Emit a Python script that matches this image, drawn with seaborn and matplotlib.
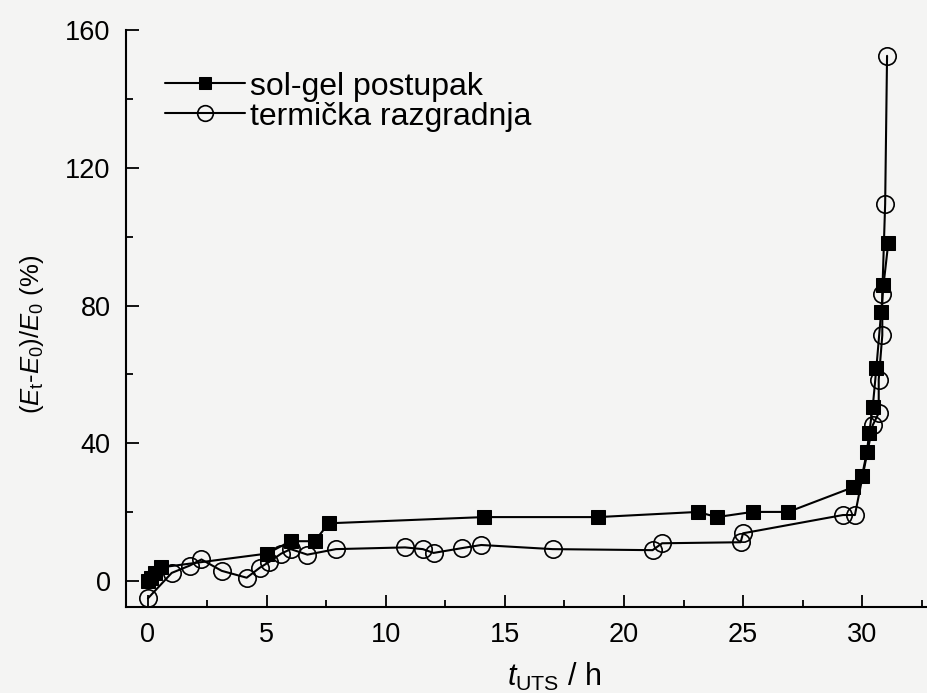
import matplotlib
matplotlib.use("Agg")
import matplotlib.pyplot as plt
from matplotlib.ticker import MultipleLocator
import numpy as np
import pandas as pd
import seaborn as sns

# Anode stability: relative change of cell potential vs. accelerated test time
solgel_t = [0.0, 0.15, 0.3, 0.55, 5.0, 6.0, 7.0, 7.6, 14.1, 18.9, 23.1, 23.9,
            25.4, 26.9, 29.6, 30.0, 30.2, 30.3, 30.45, 30.6, 30.8, 30.9, 31.1]
solgel_e = [0.0, 1.0, 2.5, 4.0, 8.0, 11.6, 11.6, 16.8, 18.6, 18.6, 20.1, 18.6,
            20.1, 20.1, 27.2, 30.6, 37.4, 43.0, 50.7, 61.8, 78.0, 85.9, 98.1]

termal_t = [0.0, 1.0, 1.75, 2.25, 3.1, 4.15, 4.7, 5.1, 5.6, 6.0, 6.7, 7.9,
            10.8, 11.55, 12.0, 13.2, 14.0, 17.0, 21.2, 21.6, 24.9, 25.0,
            29.2, 29.7, 30.45, 30.7, 30.7, 30.85, 30.85, 30.97, 31.05]
termal_e = [-5.0, 2.4, 4.5, 6.3, 3.0, 1.0, 3.9, 5.6, 8.0, 9.3, 7.7, 9.3,
            9.8, 9.3, 8.2, 9.6, 10.5, 9.3, 9.0, 11.0, 11.3, 13.9,
            19.2, 19.2, 45.3, 48.8, 58.5, 71.4, 83.3, 109.5, 152.5]

labels = ["sol-gel postupak", "termička razgradnja"]

sns.set_style("ticks")
plt.rcParams["font.family"] = ["Liberation Sans", "DejaVu Sans"]
plt.rcParams["mathtext.fontset"] = "custom"
plt.rcParams["mathtext.rm"] = "Liberation Sans"
plt.rcParams["mathtext.it"] = "Liberation Sans:italic"
plt.rcParams["text.color"] = "black"
plt.rcParams["axes.labelcolor"] = "black"

bg = "#f4f4f3"
fig = plt.figure(figsize=(9.28, 6.93), dpi=100, facecolor=bg)
ax = fig.add_axes([126 / 928, 1 - 607 / 693, 1 - 126 / 928, (607 - 30) / 693])
ax.set_facecolor(bg)

df_a = pd.DataFrame({"t": solgel_t, "e": solgel_e})
df_b = pd.DataFrame({"t": termal_t, "e": termal_e})

sns.lineplot(data=df_a, x="t", y="e", ax=ax, sort=False, estimator=None,
             color="black", lw=1.5, marker="s", markersize=10,
             markerfacecolor="black", markeredgecolor="black",
             label=labels[0])
sns.lineplot(data=df_b, x="t", y="e", ax=ax, sort=False, estimator=None,
             color="black", lw=1.5, marker="o", markersize=12.5,
             markerfacecolor="none", markeredgecolor="black",
             markeredgewidth=1.2, label=labels[1])

ax.set_xlim(-0.92, 32.77)
ax.set_ylim(-7.5, 160)
ax.xaxis.set_major_locator(MultipleLocator(5))
ax.xaxis.set_minor_locator(MultipleLocator(2.5))
ax.yaxis.set_major_locator(MultipleLocator(40))
ax.yaxis.set_minor_locator(MultipleLocator(20))
ax.tick_params(which="both", direction="in", width=1.3, colors="black",
               labelsize=19.5)
ax.tick_params(which="major", length=9, pad=11)
ax.tick_params(which="minor", length=5)

for side in ("top", "right"):
    ax.spines[side].set_visible(False)
for side in ("left", "bottom"):
    ax.spines[side].set_linewidth(1.5)
    ax.spines[side].set_color("black")

ax.set_xlabel(r"$t_{\mathrm{UTS}}$ / h", fontsize=22, labelpad=9)
ax.xaxis.label.set_x(0.534)
ax.set_ylabel(r"$(E_{\mathrm{t}}$-$E_0)/E_0$ (%)", fontsize=18.5, labelpad=14)
ax.yaxis.label.set_y(0.473)

leg = ax.legend(loc="upper left", bbox_to_anchor=(0.0486, 0.928), frameon=False,
                fontsize=23, handlelength=2.5, handletextpad=0.15,
                labelspacing=0.0, markerscale=0.9, borderaxespad=0,
                borderpad=0)

fig.savefig("out.png", dpi=100, facecolor=bg)
